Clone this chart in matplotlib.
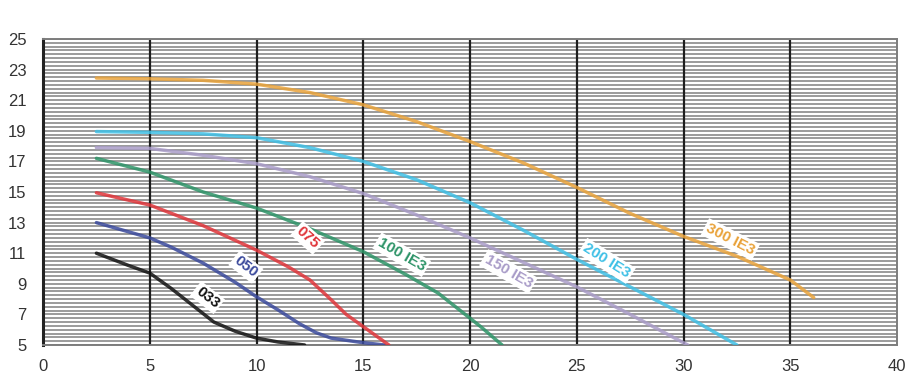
import numpy as np
import matplotlib.pyplot as plt

plt.rcParams['font.family'] = ['Liberation Sans', 'DejaVu Sans']

# flow (x) and head (y)
x_033 = [2.5, 4.0, 5.0, 6.0, 7.0, 8.0, 9.0, 10.0, 11.0, 12.25]
y_033 = [11.0, 10.2, 9.7, 8.7, 7.6, 6.5, 5.9, 5.45, 5.2, 5.0]

x_050 = [2.5, 4.0, 5.0, 6.0, 7.5, 9.0, 10.0, 11.0, 12.0, 12.8, 13.5, 15.0, 16.0]
y_050 = [13.0, 12.4, 12.0, 11.4, 10.35, 9.1, 8.15, 7.3, 6.4, 5.8, 5.45, 5.15, 5.0]

x_075 = [2.5, 5.0, 7.5, 10.0, 11.5, 12.5, 13.5, 14.2, 15.0, 15.6, 16.2]
y_075 = [14.95, 14.15, 12.8, 11.2, 10.1, 9.25, 7.95, 7.0, 6.2, 5.6, 5.0]

x_100 = [2.5, 5.0, 7.5, 10.0, 12.5, 15.0, 17.0, 18.5, 19.5, 20.5, 21.5]
y_100 = [17.2, 16.3, 15.0, 13.95, 12.6, 11.1, 9.6, 8.4, 7.3, 6.2, 5.0]

x_150 = [2.5, 5.0, 7.5, 10.0, 12.5, 15.0, 17.5, 20.0, 22.5, 25.0, 27.5, 30.2]
y_150 = [17.9, 17.85, 17.4, 16.85, 16.0, 14.9, 13.5, 12.0, 10.4, 8.8, 7.0, 5.0]

x_200 = [2.5, 5.0, 7.5, 10.0, 12.5, 15.0, 17.5, 20.0, 22.5, 25.0, 27.5, 30.0, 32.5]
y_200 = [18.95, 18.9, 18.8, 18.55, 17.9, 17.0, 15.8, 14.3, 12.5, 10.6, 8.8, 7.0, 5.0]

x_300 = [2.5, 5.0, 7.5, 10.0, 12.5, 15.0, 17.5, 20.0, 22.5, 25.0, 27.5, 30.0, 32.5, 35.0, 36.1]
y_300 = [22.45, 22.4, 22.3, 22.05, 21.5, 20.7, 19.6, 18.3, 16.9, 15.3, 13.6, 12.1, 10.8, 9.25, 8.1]

curves = [
    ("033", x_033, y_033, "#111111", (7.7, 8.1), -38),
    ("050", x_050, y_050, "#3b4a9c", (9.5, 10.1), -38),
    ("075", x_075, y_075, "#e0353a", (12.4, 12.0), -42),
    ("100 IE3", x_100, y_100, "#2e9468", (16.8, 10.9), -30),
    ("150 IE3", x_150, y_150, "#a99cc8", (21.8, 9.8), -30),
    ("200 IE3", x_200, y_200, "#3fc0e6", (26.4, 10.5), -32),
    ("300 IE3", x_300, y_300, "#e9a33b", (32.2, 11.9), -27),
]

x_ticks = np.arange(0, 41, 5)
y_ticks = np.arange(5, 26, 2)

fig = plt.figure(figsize=(9.1, 3.78), dpi=100)
ax = fig.add_axes([0.0473, 0.0873, 0.9384, 0.8095])

ax.set_xlim(0, 40)
ax.set_ylim(5, 25)

# dense horizontal rules
for yv in np.arange(5, 25.01, 0.25):
    ax.axhline(yv, color="#858585", lw=1.15, zorder=1)
for xv in x_ticks[1:-1]:
    ax.axvline(xv, color="#1e1e1e", lw=1.6, zorder=2)

for name, xs, ys, col, pos, rot in curves:
    ax.plot(xs, ys, color=col, lw=2.5, alpha=0.85, zorder=3,
            solid_joinstyle="round", solid_capstyle="round")
    ax.text(pos[0], pos[1], name, color=col, fontsize=11, fontweight="bold",
            rotation=rot, ha="center", va="center", zorder=4,
            bbox=dict(boxstyle="square,pad=0.15", fc="white", ec="none"))

ax.set_xticks(x_ticks)
ax.set_yticks(y_ticks)
ax.tick_params(length=0, labelsize=12, labelcolor="#333333", pad=10)
ax.tick_params(axis="y", pad=12)

for side in ["top", "right", "bottom"]:
    ax.spines[side].set_color("#7d7d7d")
    ax.spines[side].set_linewidth(1.4)
ax.spines["left"].set_color("#222222")
ax.spines["left"].set_linewidth(2.2)

fig.savefig("out.png", dpi=100)
